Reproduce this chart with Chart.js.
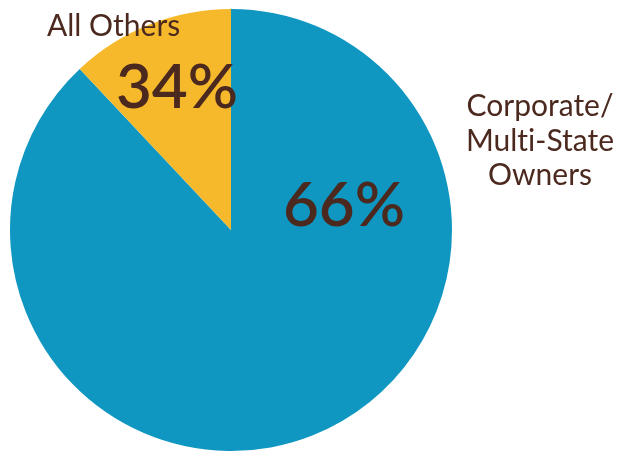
<!DOCTYPE html>
<html>
<head>
<meta charset="utf-8">
<script src="https://cdn.jsdelivr.net/npm/chart.js@4.4.1/dist/chart.umd.min.js"></script>
<style>
html,body{margin:0;padding:0;background:#fff;}
#wrap{width:618px;height:451px;position:relative;}
</style>
</head>
<body>
<div id="wrap"><canvas id="c" width="618" height="451"></canvas></div>
<script>
const categories = ["Corporate/Multi-State Owners", "All Others"];
const sliceValues = [88, 12];
const percentLabels = ["66%", "34%"];
const sliceColors = ["#0f97c2", "#f7b92c"];

const textColor = "#4b291e";

const labelPlugin = {
  id: 'labels',
  afterDraw(chart) {
    const ctx = chart.ctx;
    ctx.save();
    ctx.fillStyle = textColor;
    ctx.textBaseline = 'alphabetic';
    // percent labels
    ctx.font = '600 62px Lato';
    ctx.textAlign = 'center';
    ctx.fillText(percentLabels[0], 344, 226);
    ctx.fillText(percentLabels[1], 177, 108);
    // category labels
    ctx.font = '400 30px Lato';
    ctx.textAlign = 'left';
    ctx.fillText(categories[1], 47, 36);
    ctx.textAlign = 'center';
    const lines = ["Corporate/", "Mult\u200Ci-State", "Owners"];
    const ys = [116, 151, 185];
    lines.forEach((l, i) => ctx.fillText(l, 540, ys[i]));
    ctx.restore();
  }
};

new Chart(document.getElementById('c'), {
  type: 'pie',
  data: {
    labels: categories,
    datasets: [{
      data: sliceValues,
      backgroundColor: sliceColors,
      borderWidth: 0
    }]
  },
  options: {
    responsive: false,
    animation: false,
    layout: { padding: { left: 10, top: 9, right: 166, bottom: 0 } },
    plugins: { legend: { display: false }, tooltip: { enabled: false } }
  },
  plugins: [labelPlugin]
});
</script>
</body>
</html>
